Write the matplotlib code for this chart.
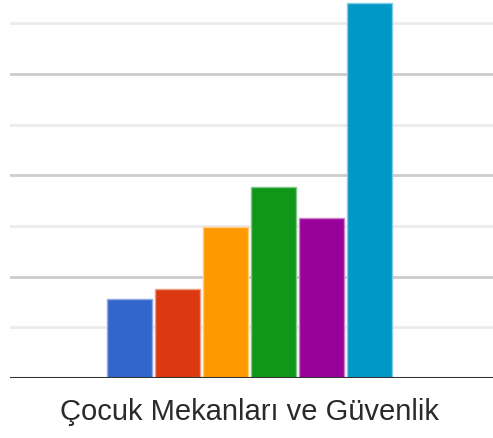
import numpy as np
import matplotlib.pyplot as plt

plt.rcParams['font.family'] = ['Liberation Sans', 'DejaVu Sans']

# Veri
kategori = "Çocuk Mekanları ve Güvenlik"
degerler = [15.6, 17.6, 29.8, 37.7, 31.6, 74.0]
renkler = ['#3366cc', '#dc3912', '#ff9900', '#109618', '#990099', '#0099c6']
kenarlar = ['#8fa9e0', '#ee9c88', '#ffcc80', '#80c88a', '#cc80cc', '#80cce2']

fig = plt.figure(figsize=(4.93, 4.38), dpi=100)
ax = fig.add_axes([10/493, 60/438, 483/493, 378/438])

n = len(degerler)
adim = 0.0995
genislik = 0.094
x = (np.arange(n) - (n-1)/2) * adim - 0.004

# Izgara cizgileri (acik ve koyu sirayla)
for i, y in enumerate(np.arange(10, 80, 10)):
    renk = '#ebebeb' if i % 2 == 0 else '#cccccc'
    ax.axhline(y, color=renk, lw=2, zorder=0)

ax.bar(x, degerler, width=genislik, color=renkler, edgecolor=kenarlar,
       linewidth=1, zorder=2)

ax.axhline(0, color='#333333', lw=2.2, zorder=3)

ax.set_xlim(-0.5, 0.5)
ax.set_ylim(0, 74.6)
ax.set_xticks([])
ax.set_yticks([])
for s in ax.spines.values():
    s.set_visible(False)

fig.text(249/493, 1 - 412/438, kategori, ha='center', va='center',
         fontsize=21, color='#2a2a2a')

fig.savefig('out.png', dpi=100)
